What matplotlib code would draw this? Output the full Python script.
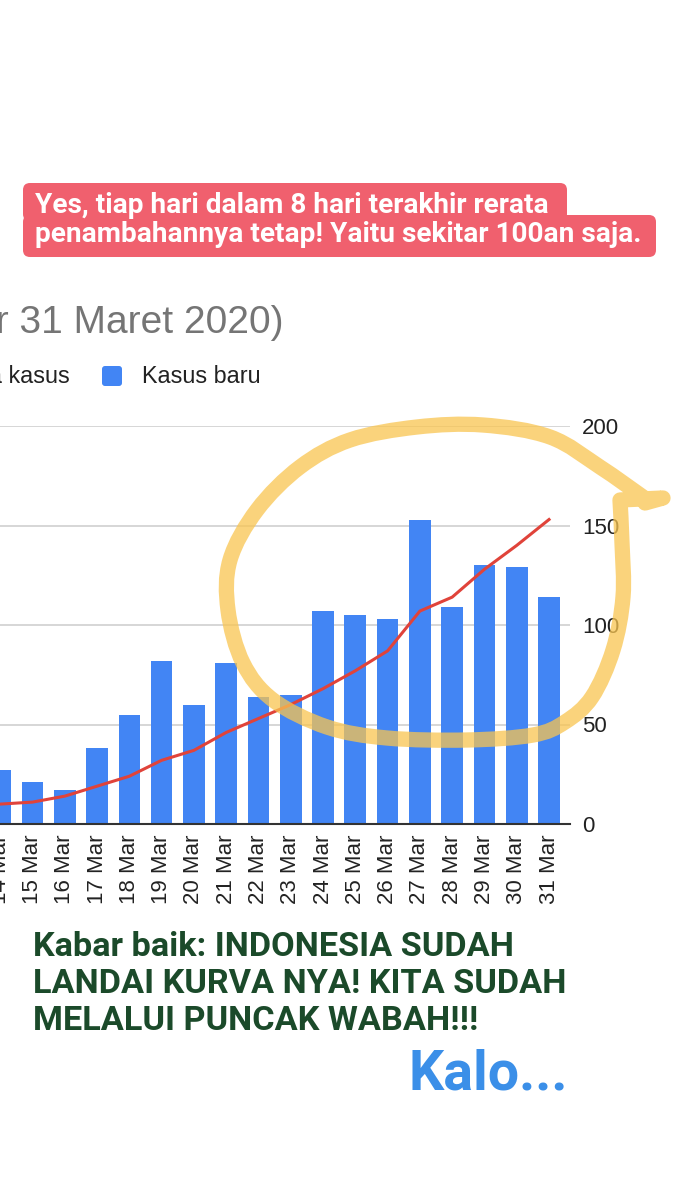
import numpy as np
import matplotlib.pyplot as plt
from matplotlib.patches import FancyBboxPatch
from matplotlib.path import Path
from matplotlib.patches import PathPatch

# Data kasus baru COVID-19 Indonesia, 14-31 Maret 2020
tanggal = ['14 Mar', '15 Mar', '16 Mar', '17 Mar', '18 Mar', '19 Mar', '20 Mar',
           '21 Mar', '22 Mar', '23 Mar', '24 Mar', '25 Mar', '26 Mar', '27 Mar',
           '28 Mar', '29 Mar', '30 Mar', '31 Mar']
kasus_baru = [27, 21, 17, 38, 55, 82, 60, 81, 64, 65, 107, 105, 103, 153, 109, 130, 129, 114]
rata_rata = [10, 11, 14, 19, 24, 32, 37, 46, 53, 60, 68, 77, 87, 107, 114, 128, 140, 153]
y_ticks = [0, 50, 100, 150, 200]

W, H = 675, 1200
fig = plt.figure(figsize=(W / 100, H / 100), dpi=100)
fig.patch.set_facecolor('white')

# area grafik (dalam piksel: x 0..570, y 426..824)
ax = fig.add_axes([0, (H - 824) / H, 570 / W, (824 - 426) / H])
x = np.arange(len(tanggal))
ax.bar(x, kasus_baru, width=0.67, color='#4285F4', zorder=2)
ax.plot(x, rata_rata, color='#E0433A', lw=2.2, zorder=3, solid_joinstyle='round')
ax.set_xlim(-0.006, len(tanggal) - 1 + 0.65)
ax.set_ylim(0, 200)
ax.set_yticks(y_ticks)
ax.yaxis.tick_right()
ax.set_xticks(x)
ax.set_xticklabels(tanggal, rotation=90, va='top', ha='center')
ax.tick_params(axis='both', length=0, labelsize=16, labelcolor='#222222',
               labelfontfamily='Liberation Sans')
ax.tick_params(axis='y', pad=8.5)
ax.tick_params(axis='x', pad=7.5)
ax.grid(axis='y', color='#cccccc', lw=1.1, zorder=0)
for s in ['top', 'left', 'right']:
    ax.spines[s].set_visible(False)
ax.spines['bottom'].set_color('#333333')
ax.spines['bottom'].set_linewidth(1.5)
ax.spines['bottom'].set_zorder(4)

# lapisan anotasi dalam koordinat piksel
ov = fig.add_axes([0, 0, 1, 1], zorder=10)
ov.set_xlim(0, W)
ov.set_ylim(H, 0)
ov.axis('off')
ov.patch.set_alpha(0)

# judul dan legenda (terpotong di kiri, seperti tangkapan layar aslinya)
ov.text(283, 333, 'Kasus baru COVID-19 di Indonesia (per 31 Maret 2020)', ha='right',
        va='baseline', fontsize=28, color='#757575', family='Liberation Sans')
ov.text(70, 383, 'Rata-rata kasus', ha='right', va='baseline', fontsize=16.8,
        color='#222222', family='Liberation Sans')
ov.add_patch(FancyBboxPatch((102, 366), 20, 20, boxstyle='round,pad=0,rounding_size=3',
                            fc='#4285F4', ec='none'))
ov.text(142, 383, 'Kasus baru', ha='left', va='baseline', fontsize=16.8,
        color='#222222', family='Liberation Sans')

# kotak merah
merah = '#F0606E'
ov.add_patch(FancyBboxPatch((23, 183), 544, 38, boxstyle='round,pad=0,rounding_size=7',
                            fc=merah, ec='none'))
ov.add_patch(FancyBboxPatch((23, 215), 633, 42, boxstyle='round,pad=0,rounding_size=7',
                            fc=merah, ec='none'))
ov.text(35, 213, 'Yes, tiap hari dalam 8 hari terakhir rerata', ha='left', va='baseline',
        fontsize=20.2, color='white', family='Roboto', weight='bold')
ov.text(35, 242, 'penambahannya tetap! Yaitu sekitar 100an saja.', ha='left', va='baseline',
        fontsize=20.2, color='white', family='Roboto', weight='bold')

# lingkaran kuning
pts = np.array([(643, 497), (600, 467), (550, 437), (483, 425), (417, 427), (350, 440),
                (300, 467), (257, 510), (230, 560), (228, 610), (243, 663), (273, 700),
                (327, 727), (387, 738), (467, 740), (533, 735), (565, 722), (592, 697),
                (613, 650), (623, 597), (622, 543), (620, 500)], dtype=float)
verts = [pts[0]]
codes = [Path.MOVETO]
for i in range(len(pts) - 1):
    p0 = pts[max(i - 1, 0)]
    p1 = pts[i]
    p2 = pts[i + 1]
    p3 = pts[min(i + 2, len(pts) - 1)]
    verts += [p1 + (p2 - p0) / 6, p2 - (p3 - p1) / 6, p2]
    codes += [Path.CURVE4] * 3
verts += [(663, 498), (645, 503)]
codes += [Path.LINETO, Path.LINETO]
ov.add_patch(PathPatch(Path(verts, codes), fc='none', ec='#F9C550', lw=11, alpha=0.75,
                       capstyle='round', joinstyle='round'))

# teks hijau
hijau = '#1B4A2A'
baris = ['Kabar baik: INDONESIA SUDAH', 'LANDAI KURVA NYA! KITA SUDAH',
         'MELALUI PUNCAK WABAH!!!']
for i, b in enumerate(baris):
    ov.text(33, 956 + i * 37, b, ha='left', va='baseline', fontsize=24.7,
            color=hijau, family='Roboto', weight='bold')
ov.text(408, 1090, 'Kalo...', ha='left', va='baseline', fontsize=40,
        color='#3B8FE8', family='Roboto', weight='bold')

fig.savefig('out.png', dpi=100)
